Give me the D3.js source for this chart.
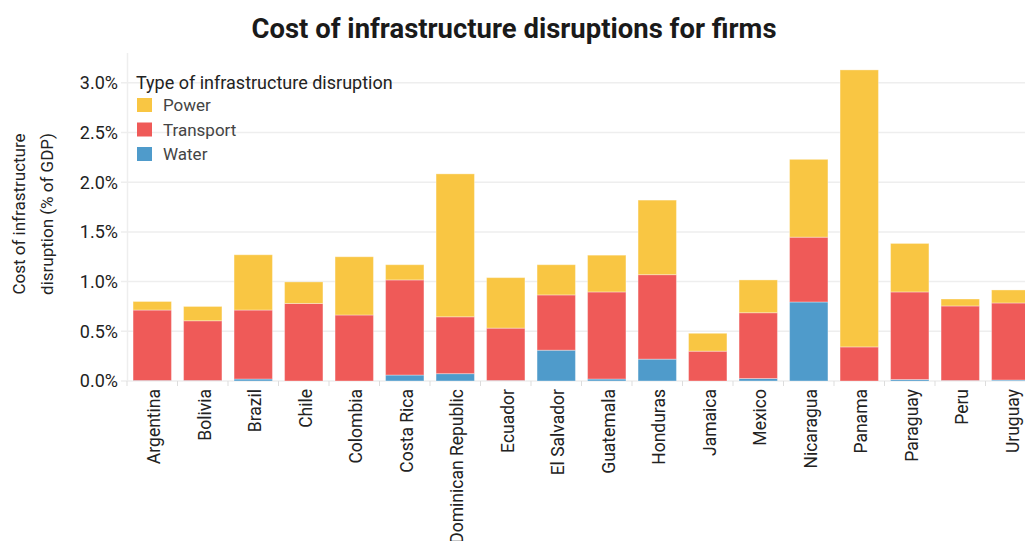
<!DOCTYPE html>
<html>
<head>
<meta charset="utf-8">
<script src="https://cdn.jsdelivr.net/npm/d3@7"></script>
<style>
  body { margin: 0; background: #fff; }
  text { font-family: Roboto, "Noto Sans", sans-serif; }
</style>
</head>
<body>
<div id="chart"></div>
<script>
// values are % of GDP
const countries = ['Argentina', 'Bolivia', 'Brazil', 'Chile', 'Colombia', 'Costa Rica',
    'Dominican Republic', 'Ecuador', 'El Salvador', 'Guatemala', 'Honduras', 'Jamaica',
    'Mexico', 'Nicaragua', 'Panama', 'Paraguay', 'Peru', 'Uruguay'];
const water     = [0.005, 0.005, 0.02, 0, 0, 0.06, 0.074, 0.005, 0.31, 0.02, 0.22, 0, 0.025, 0.795, 0, 0.015, 0.005, 0.01];
const transport = [0.709, 0.601, 0.694, 0.78, 0.664, 0.957, 0.572, 0.527, 0.556, 0.876, 0.85, 0.30, 0.662, 0.652, 0.343, 0.881, 0.75, 0.775];
const power     = [0.086, 0.144, 0.556, 0.217, 0.586, 0.153, 1.438, 0.508, 0.304, 0.37, 0.75, 0.18, 0.33, 0.783, 2.787, 0.488, 0.07, 0.131];
const yTicks = [0, 0.5, 1.0, 1.5, 2.0, 2.5, 3.0];

const seriesKeys = ['Water', 'Transport', 'Power'];
const colors = {Power: '#F9C643', Transport: '#EF5A58', Water: '#4F9BCB'};

const W = 1025, H = 541;
const svg = d3.select('#chart').append('svg')
    .attr('width', W)
    .attr('height', H);

let rows = countries.map((c, i) => ({country: c, Water: water[i], Transport: transport[i], Power: power[i]}));
let stacked = d3.stack().keys(seriesKeys)(rows);

let x = d3.scaleBand()
    .domain(countries)
    .range([127, 1036])
    .paddingInner(0.24)
    .paddingOuter(0.12);

let y = d3.scaleLinear()
    .domain([0, 3.3])
    .range([381, 53]);

// gridlines + y labels
let yAxis = svg.append('g').attr('class', 'y-axis');
yAxis.selectAll('line')
    .data(yTicks)
    .join('line')
    .attr('x1', 121)
    .attr('x2', W)
    .attr('y1', d => y(d))
    .attr('y2', d => y(d))
    .attr('stroke', '#eeeeee')
    .attr('stroke-width', 1.5);

yAxis.selectAll('text')
    .data(yTicks)
    .join('text')
    .attr('x', 118)
    .attr('y', d => y(d))
    .attr('dy', '0.35em')
    .attr('text-anchor', 'end')
    .attr('fill', '#222')
    .style('font-size', '18px')
    .text(d => d3.format('.1f')(d) + '%');

svg.append('line')
    .attr('x1', 127.5).attr('x2', 127.5)
    .attr('y1', 53).attr('y2', 381)
    .attr('stroke', '#eeeeee')
    .attr('stroke-width', 1.5);

// x ticks at band edges
let edgeOffset = x.step() * x.paddingInner() / 2;
svg.append('g').selectAll('line')
    .data(countries)
    .join('line')
    .attr('x1', d => x(d) - edgeOffset)
    .attr('x2', d => x(d) - edgeOffset)
    .attr('y1', 381)
    .attr('y2', 386)
    .attr('stroke', '#dddddd')
    .attr('stroke-width', 1);

// bars
svg.append('g').selectAll('g')
    .data(stacked)
    .join('g')
    .attr('fill', d => colors[d.key])
    .selectAll('rect')
    .data(d => d)
    .join('rect')
    .attr('x', d => x(d.data.country))
    .attr('y', d => y(d[1]))
    .attr('width', x.bandwidth())
    .attr('height', d => Math.max(0, y(d[0]) - y(d[1])))
    .attr('stroke', '#ffffff')
    .attr('stroke-opacity', 0.35)
    .attr('stroke-width', 1);

// x labels
svg.append('g').selectAll('text')
    .data(countries)
    .join('text')
    .attr('transform', d => `translate(${x(d) + x.bandwidth() / 2 + 8},389) rotate(-90)`)
    .attr('text-anchor', 'end')
    .attr('fill', '#222')
    .style('font-size', '17.5px')
    .text(d => d);

// y title
let yTitle = svg.append('text')
    .attr('transform', 'translate(0,214) rotate(-90)')
    .attr('text-anchor', 'middle')
    .attr('fill', '#222')
    .style('font-size', '17px');
yTitle.append('tspan').attr('x', 0).attr('y', 25).text('Cost of infrastructure');
yTitle.append('tspan').attr('x', 0).attr('y', 53).text('disruption (% of GDP)');

// title
svg.append('text')
    .attr('x', 514)
    .attr('y', 38)
    .attr('text-anchor', 'middle')
    .attr('font-weight', 700)
    .attr('fill', '#1a1a1a')
    .attr('textLength', 525)
    .attr('lengthAdjust', 'spacingAndGlyphs')
    .style('font-size', '28px')
    .text('Cost of infrastructure disruptions for firms');

// legend
let legend = svg.append('g').attr('transform', 'translate(136,0)');
legend.append('text')
    .attr('x', 0)
    .attr('y', 89)
    .attr('fill', '#222')
    .style('font-size', '18px')
    .text('Type of infrastructure disruption');

let items = legend.selectAll('g.item')
    .data(['Power', 'Transport', 'Water'])
    .join('g')
    .attr('class', 'item')
    .attr('transform', (d, i) => `translate(0,${98 + i * 24.5})`);
items.append('rect')
    .attr('x', 1)
    .attr('width', 15)
    .attr('height', 14)
    .attr('fill', d => colors[d]);
items.append('text')
    .attr('x', 27)
    .attr('y', 13)
    .attr('fill', '#444')
    .style('font-size', '17px')
    .text(d => d);
</script>
</body>
</html>
